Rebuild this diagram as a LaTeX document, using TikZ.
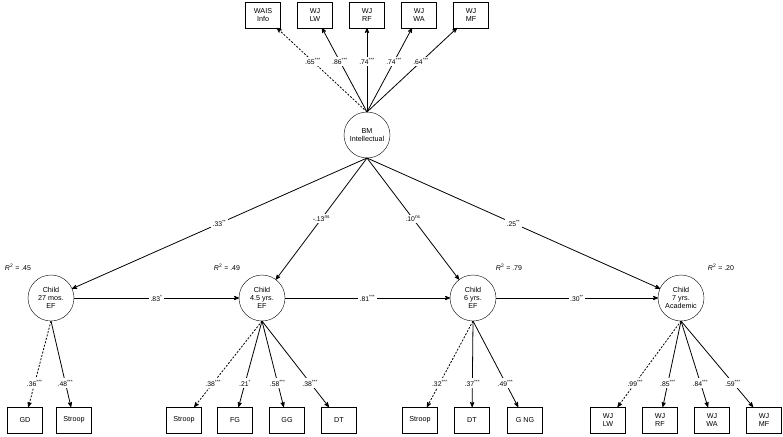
\documentclass[tikz,border=0pt]{standalone}
\usepackage{fontspec}
\setmainfont{Liberation Sans}
\usepackage{tkz-graph}
\usetikzlibrary{arrows}

\begin{document}
\begin{tikzpicture}[x=1pt, y=-1pt]
    \useasboundingbox (0,0) rectangle (783,436);

    \tikzset{VertexStyle/.style={draw, rectangle, minimum width=35pt, minimum height=26pt,
        inner sep=1pt, align=center, font=\fontsize{7.2}{8}\selectfont}}
    \Vertex[x=263, y=15, L={WAIS\\Info}] {WAIS}
    \Vertex[x=315, y=15, L={WJ\\LW}]     {LWa}
    \Vertex[x=367, y=15, L={WJ\\RF}]     {RFa}
    \Vertex[x=419, y=15, L={WJ\\WA}]     {WAa}
    \Vertex[x=471, y=15, L={WJ\\MF}]     {MFa}

    \Vertex[x=25,  y=420, L={GD}]     {GD}
    \Vertex[x=74,  y=420, L={Stroop}] {STa}
    \Vertex[x=184, y=420, L={Stroop}] {STb}
    \Vertex[x=235, y=420, L={FG}]     {FG}
    \Vertex[x=287, y=420, L={GG}]     {GG}
    \Vertex[x=339, y=420, L={DT}]     {DTa}
    \Vertex[x=420, y=420, L={Stroop}] {STc}
    \Vertex[x=472, y=420, L={DT}]     {DTb}
    \Vertex[x=525, y=420, L={G NG}]   {GNG}
    \Vertex[x=608, y=420, L={WJ\\LW}] {LWb}
    \Vertex[x=660, y=420, L={WJ\\RF}] {RFb}
    \Vertex[x=712, y=420, L={WJ\\WA}] {WAb}
    \Vertex[x=764, y=420, L={WJ\\MF}] {MFb}

    \tikzset{VertexStyle/.style={draw, circle, minimum size=46pt, inner sep=0pt,
        align=center, font=\fontsize{7.2}{8.2}\selectfont}}
    \Vertex[x=367, y=135, L={BM\\Intellectual}]   {BM}
    \Vertex[x=51,  y=298, L={Child\\27 mos.\\EF}] {C27}
    \Vertex[x=262, y=298, L={Child\\4.5 yrs.\\EF}] {C45}
    \Vertex[x=473, y=298, L={Child\\6 yrs.\\EF}]  {C6}
    \Vertex[x=681, y=298, L={Child\\7 yrs.\\Academic}] {C7}

    \tikzset{RsqStyle/.style={font=\fontsize{7}{8}\selectfont}}
    \node[RsqStyle] (R27) at (18,267)  {\textit{R}\textsuperscript{2} = .45};
    \node[RsqStyle] (R45) at (227,267) {\textit{R}\textsuperscript{2} = .49};
    \node[RsqStyle] (R6)  at (509,267) {\textit{R}\textsuperscript{2} = .79};
    \node[RsqStyle] (R7)  at (721,267) {\textit{R}\textsuperscript{2} = .20};

    \tikzset{LabelStyle/.style={fill=white, inner sep=1.5pt, pos=0.6,
        font=\fontsize{6.8}{7.5}\selectfont}}
    \tikzset{EdgeStyle/.style={->, >=stealth', line width=0.8pt,
        dash pattern=on 2pt off 1.5pt}}
    \Edge[label={.65\textsuperscript{***}}](BM.north)(WAIS)

    \tikzset{EdgeStyle/.style={->, >=stealth', line width=0.8pt}}
    \Edge[label={.86\textsuperscript{***}}](BM.north)(LWa)
    \Edge[label={.74\textsuperscript{***}}](BM.north)(RFa)
    \Edge[label={.74\textsuperscript{***}}](BM.north)(WAa)
    \Edge[label={.64\textsuperscript{***}}](BM.north)(MFa)

    \tikzset{LabelStyle/.append style={pos=0.5}}
    \Edge[label={.33\textsuperscript{**}}](BM.south)(C27)
    \Edge[label={-.13\textsuperscript{ns}}](BM.south)(C45)
    \Edge[label={.10\textsuperscript{ns}}](BM.south)(C6)
    \Edge[label={.25\textsuperscript{**}}](BM.south)(C7)

    \Edge[label={.83\textsuperscript{*}}](C27)(C45)
    \Edge[label={.81\textsuperscript{***}}](C45)(C6)
    \Edge[label={.30\textsuperscript{**}}](C6)(C7)

    \tikzset{LabelStyle/.append style={pos=0.72}}
    \tikzset{EdgeStyle/.style={->, >=stealth', line width=0.8pt,
        dash pattern=on 2pt off 1.5pt}}
    \Edge[label={.36\textsuperscript{***}}](C27.south)(GD)
    \Edge[label={.38\textsuperscript{***}}](C45.south)(STb)
    \Edge[label={.32\textsuperscript{***}}](C6.south)(STc)
    \Edge[label={.99\textsuperscript{***}}](C7.south)(LWb)

    \tikzset{EdgeStyle/.style={->, >=stealth', line width=0.8pt}}
    \Edge[label={.48\textsuperscript{***}}](C27.south)(STa)
    \Edge[label={.21\textsuperscript{*}}](C45.south)(FG)
    \Edge[label={.58\textsuperscript{***}}](C45.south)(GG)
    \Edge[label={.38\textsuperscript{***}}](C45.south)(DTa)
    \Edge[label={.37\textsuperscript{***}}](C6.south)(DTb)
    \Edge[label={.49\textsuperscript{***}}](C6.south)(GNG)
    \Edge[label={.85\textsuperscript{***}}](C7.south)(RFb)
    \Edge[label={.84\textsuperscript{***}}](C7.south)(WAb)
    \Edge[label={.59\textsuperscript{***}}](C7.south)(MFb)

\end{tikzpicture}
\end{document}
